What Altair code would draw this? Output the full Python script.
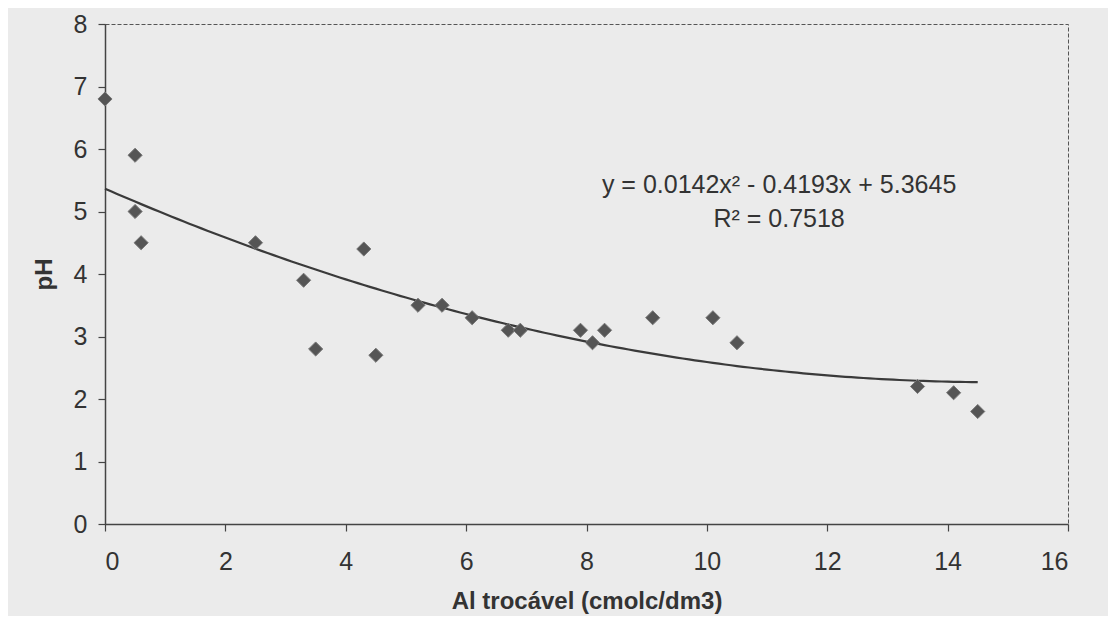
import altair as alt
import pandas as pd

# data
al_exchangeable = [0.0, 0.5, 0.5, 0.6, 2.5, 3.3, 3.5, 4.3, 4.5, 5.2, 5.6, 6.1, 6.7, 6.9,
                   7.9, 8.1, 8.3, 9.1, 10.1, 10.5, 13.5, 14.1, 14.5]
ph_values = [6.8, 5.9, 5.0, 4.5, 4.5, 3.9, 2.8, 4.4, 2.7, 3.5, 3.5, 3.3, 3.1, 3.1,
             3.1, 2.9, 3.1, 3.3, 3.3, 2.9, 2.2, 2.1, 1.8]

# trend line coefficients printed on the chart (a, b, c for a*x^2 + b*x + c)
trend_coefficients = [0.0142, -0.4193, 5.3645]
trend_range = [0.0, 14.5]

label_texts = ["y = 0.0142x\u00b2 - 0.4193x + 5.3645", "R\u00b2 = 0.7518"]
label_x = [11.2, 11.2]
label_y = [5.42, 4.88]

points = pd.DataFrame({"x": al_exchangeable, "y": ph_values})
labels = pd.DataFrame({"x": label_x, "y": label_y, "t": label_texts})

a, b, c = trend_coefficients
FONT = "Liberation Sans"
INK = "#333333"

xscale = alt.Scale(domain=[0, 16], nice=False, zero=False)
yscale = alt.Scale(domain=[0, 8], nice=False)

xaxis = alt.Axis(title="Al trocável (cmolc/dm3)", values=list(range(0, 17, 2)), format="d",
                 grid=False, tickSize=7, labelPadding=18, titlePadding=15)
yaxis = alt.Axis(title="pH", values=list(range(0, 9)), format="d", grid=False, tickSize=7,
                 labelPadding=11, titlePadding=17)

scatter = alt.Chart(points).mark_point(
    shape="diamond", filled=True, size=200, color="#555555",
    stroke="#777777", strokeWidth=1, opacity=1
).encode(
    x=alt.X("x:Q", scale=xscale, axis=xaxis),
    y=alt.Y("y:Q", scale=yscale, axis=yaxis),
)

trend = alt.Chart(alt.sequence(trend_range[0], trend_range[1] + 0.001, 0.1, as_="x")).transform_calculate(
    y=f"{a} * datum.x * datum.x + ({b}) * datum.x + {c}"
).mark_line(color="#3a3a3a", strokeWidth=2.2).encode(
    x=alt.X("x:Q", scale=xscale),
    y=alt.Y("y:Q", scale=yscale),
)

text = alt.Chart(labels).mark_text(
    font=FONT, fontSize=25, color=INK, align="center", baseline="middle"
).encode(
    x=alt.X("x:Q", scale=xscale),
    y=alt.Y("y:Q", scale=yscale),
    text="t:N",
)

chart = alt.layer(trend, scatter, text).properties(
    width=963, height=500,
    autosize=alt.AutoSizeParams(type="none"),
    padding={"left": 97, "top": 16, "right": 40, "bottom": 92},
    background="#ebebeb",
).configure_view(
    stroke="#555555", strokeWidth=1, strokeDash=[4, 2]
).configure_axis(
    domainColor="#444444", domainWidth=1.5, tickColor="#444444", tickWidth=1.2,
    labelFont=FONT, labelFontSize=25, labelColor=INK,
    titleFont=FONT, titleFontSize=24, titleFontWeight="bold", titleColor=INK,
)

chart.save("out.html", embed_options={"renderer": "svg", "actions": False})
